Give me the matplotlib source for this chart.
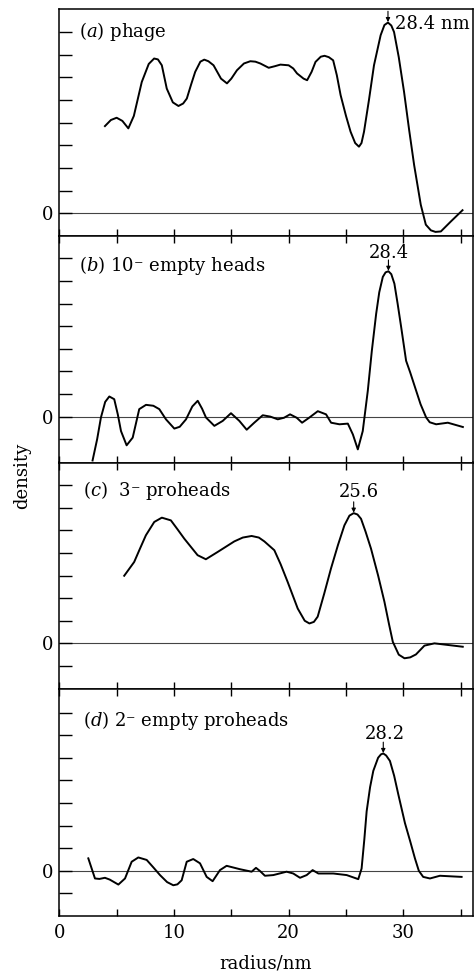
import matplotlib
matplotlib.use("Agg")
import matplotlib.pyplot as plt

plt.rcParams['font.family'] = ['DejaVu Serif']
plt.rcParams['mathtext.fontset'] = 'dejavuserif'

# ---- data (radius in nm, density in arbitrary units) ----
r_a = [3.98, 4.5, 5.0, 5.5, 6.02, 6.5, 7.19, 7.8, 8.27, 8.6, 8.94, 9.37, 9.9, 10.39, 10.8, 11.12,
       11.5, 11.85, 12.3, 12.64, 13.0, 13.45, 14.1, 14.62, 15.0, 15.49, 16.1, 16.66, 17.1, 17.53, 18.26,
       18.8, 19.28, 20.0, 20.4, 20.73, 21.3, 21.61, 22.0, 22.34, 22.8, 23.13, 23.5, 23.88, 24.2, 24.53,
       25.0, 25.4, 25.8, 26.13, 26.35, 26.57, 27.0, 27.44, 28.02, 28.35, 28.66, 28.95, 29.19, 29.6,
       30.06, 30.5, 30.94, 31.52, 31.96, 32.4, 32.8, 33.27, 34.14, 35.16]
d_a = [3.85, 4.12, 4.22, 4.08, 3.75, 4.3, 5.8, 6.6, 6.84, 6.8, 6.54, 5.51, 4.9, 4.74, 4.85, 5.07,
       5.7, 6.25, 6.7, 6.79, 6.72, 6.54, 5.95, 5.74, 5.95, 6.32, 6.62, 6.72, 6.7, 6.62, 6.43,
       6.5, 6.57, 6.54, 6.4, 6.18, 5.95, 5.88, 6.25, 6.69, 6.92, 6.96, 6.9, 6.76, 6.1, 5.22,
       4.3, 3.6, 3.1, 2.94, 3.1, 3.6, 5.0, 6.54, 7.87, 8.32, 8.43, 8.3, 8.01, 6.9,
       5.37, 3.7, 2.13, 0.37, -0.51, -0.76, -0.83, -0.81, -0.37, 0.13]

r_b = [2.9, 3.3, 3.63, 4.0, 4.36, 4.79, 5.1, 5.38, 5.87, 6.4, 6.97, 7.56, 8.2, 8.72, 9.3, 10.03, 10.5,
       11.05, 11.6, 12.07, 12.45, 12.79, 13.52, 14.25, 14.97, 15.7, 16.34, 17.0, 17.74, 18.4, 19.05,
       19.6, 20.12, 20.7, 21.17, 21.81, 22.54, 23.26, 23.7, 24.43, 25.16, 25.6, 26.03, 26.46, 26.9,
       27.25, 27.63, 27.9, 28.21, 28.45, 28.7, 28.95, 29.22, 29.5, 29.81, 30.24, 30.6, 31.12, 31.5,
       31.99, 32.3, 32.86, 33.88, 35.19]
d_b = [-1.94, -1.0, -0.04, 0.65, 0.89, 0.77, 0.1, -0.64, -1.27, -0.93, 0.33, 0.52, 0.48, 0.33, -0.12,
       -0.53, -0.45, -0.12, 0.45, 0.7, 0.35, -0.04, -0.41, -0.19, 0.15, -0.19, -0.58, -0.27, 0.06, 0.0,
       -0.12, -0.05, 0.1, -0.05, -0.27, -0.04, 0.24, 0.1, -0.27, -0.34, -0.31, -0.79, -1.45, -0.64,
       1.14, 2.9, 4.55, 5.5, 6.18, 6.38, 6.43, 6.3, 5.88, 5.0, 3.96, 2.47, 1.95, 1.14, 0.55, -0.04,
       -0.25, -0.34, -0.27, -0.46]

r_c = [5.66, 6.53, 7.0, 7.55, 8.28, 8.94, 9.73, 10.3, 10.9, 12.06, 12.78, 13.8, 15.26, 16.0, 16.77,
       17.4, 17.88, 18.75, 19.3, 19.91, 20.79, 21.4, 21.81, 22.2, 22.53, 23.1, 23.69, 24.3, 24.86,
       25.3, 25.67, 26.0, 26.31, 26.7, 27.18, 27.8, 28.35, 28.75, 29.08, 29.6, 30.1, 30.6, 31.1,
       31.84, 32.71, 33.87, 35.18]
d_c = [2.99, 3.6, 4.15, 4.78, 5.37, 5.56, 5.44, 5.05, 4.63, 3.9, 3.72, 4.04, 4.51, 4.68, 4.75,
       4.68, 4.51, 4.12, 3.5, 2.72, 1.54, 1.0, 0.88, 0.95, 1.18, 2.2, 3.31, 4.35, 5.22,
       5.65, 5.76, 5.7, 5.51, 4.95, 4.19, 3.0, 1.84, 0.85, 0.07, -0.5, -0.66, -0.62, -0.49,
       -0.1, 0.0, -0.07, -0.15]

r_d = [2.53, 3.11, 3.5, 3.98, 4.4, 5.15, 5.73, 6.31, 6.89, 7.62, 8.2, 8.78, 9.4, 9.94, 10.3, 10.67,
       11.11, 11.68, 12.27, 12.85, 13.37, 14.01, 14.59, 15.75, 16.77, 17.15, 17.5, 17.93, 18.66, 19.82,
       20.4, 20.99, 21.57, 22.09, 22.59, 23.89, 25.06, 26.07, 26.36, 26.6, 26.8, 27.1, 27.38, 27.8,
       28.05, 28.25, 28.5, 28.83, 29.2, 29.56, 30.14, 30.6, 31.01, 31.35, 31.73, 32.32, 33.19, 35.08]
d_d = [0.55, -0.34, -0.36, -0.31, -0.39, -0.61, -0.34, 0.4, 0.59, 0.48, 0.15, -0.19, -0.5, -0.64, -0.6,
       -0.42, 0.4, 0.52, 0.33, -0.27, -0.46, 0.03, 0.22, 0.07, -0.04, 0.13, -0.01, -0.22, -0.19, -0.04,
       -0.12, -0.31, -0.19, 0.03, -0.12, -0.12, -0.19, -0.37, 0.1, 1.4, 2.63, 3.7, 4.42, 5.0,
       5.15, 5.19, 5.1, 4.86, 4.2, 3.38, 2.11, 1.3, 0.55, 0.0, -0.27, -0.34, -0.22, -0.27]

labels = ['($a$) phage', '($b$) 10⁻ empty heads', '($c$)  3⁻ proheads', '($d$) 2⁻ empty proheads']
peak_labels = ['28.4 nm', '28.4', '25.6', '28.2']
peak_r = [28.66, 28.7, 25.67, 28.25]
peak_d = [8.43, 6.43, 5.76, 5.19]

series = [(r_a, d_a), (r_b, d_b), (r_c, d_c), (r_d, d_d)]
ylims = [(-1.0, 9.03), (-2.03, 8.0), (-2.03, 8.0), (-2.0, 8.03)]
yticks = [list(range(0, 9)), list(range(-1, 8)), list(range(-1, 8)), list(range(-1, 8))]
label_pos = [(1.75, 8.02), (1.71, 6.7), (2.11, 6.76), (2.04, 6.65)]
peak_text_pos = [(29.3, 8.37, 'left'), (28.76, 7.24, 'center'), (26.1, 6.69, 'center'), (28.4, 6.06, 'center')]

fig = plt.figure(figsize=(4.76, 9.76), dpi=100)
left = 59.3 / 476
width = (473.3 - 59.3) / 476
h = 226.75 / 976
bottom0 = 60 / 976

for i, (r, d) in enumerate(series):
    b = bottom0 + (3 - i) * h
    ax = fig.add_axes([left, b, width, h])
    ax.set_xlim(0, 36.1)
    ax.set_ylim(*ylims[i])
    ax.axhline(0, color='#444444', lw=0.8, zorder=1)
    ax.plot(r, d, color='black', lw=1.4, zorder=3, solid_joinstyle='round')
    for s in ax.spines.values():
        s.set_linewidth(1.1)
    ax.set_yticks(yticks[i])
    ax.set_yticklabels(['0' if t == 0 else '' for t in yticks[i]], fontsize=13)
    ax.tick_params(axis='y', direction='in', length=9, width=1.0, pad=4)
    xt = list(range(0, 40, 5))
    ax.set_xticks(xt)
    if i == 3:
        ax.set_xticklabels(['0' if t == 0 else (str(t) if t % 10 == 0 else '') for t in xt], fontsize=13)
    else:
        ax.set_xticklabels([])
    ax.tick_params(axis='x', direction='in', length=5, width=1.0, pad=6, top=(i > 0), bottom=True)
    lx, ly = label_pos[i]
    ax.text(lx, ly, labels[i], fontsize=13, ha='left', va='center')
    tx, ty, ha = peak_text_pos[i]
    ax.text(tx, ty, peak_labels[i], fontsize=13, ha=ha, va='center')
    ax.annotate('', xy=(peak_r[i], peak_d[i] + 0.02), xytext=(peak_r[i], peak_d[i] + 0.5),
                arrowprops=dict(arrowstyle='-|>', lw=0.8, mutation_scale=6, color='black',
                                shrinkA=0, shrinkB=0))

fig.text(22 / 476, 1 - 476 / 976, 'density', rotation=90, ha='center', va='center', fontsize=13)
fig.text(266 / 476, 1 - 963 / 976, 'radius/nm', ha='center', va='center', fontsize=13)

fig.savefig('out.png', dpi=100)
